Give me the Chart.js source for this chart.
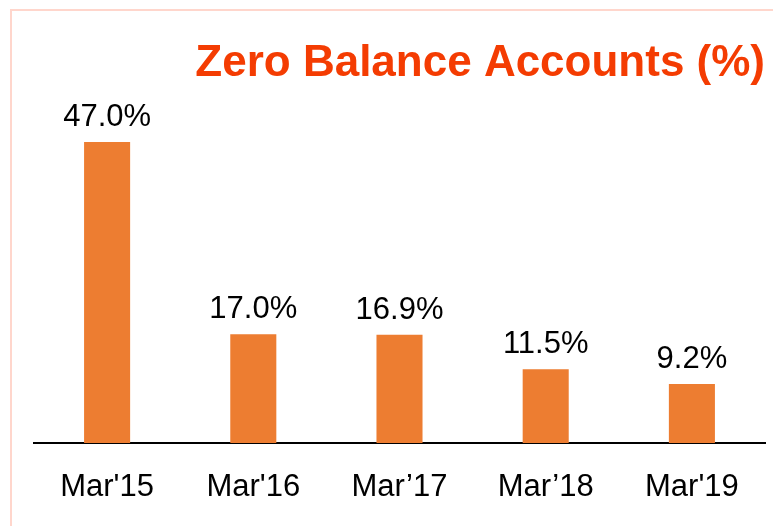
<!DOCTYPE html>
<html lang="en">
<head>
  <meta charset="UTF-8" />
  <title>Zero Balance Accounts (%)</title>
  <script src="https://cdn.jsdelivr.net/npm/chart.js"></script>
  <style>
    body {
      margin: 0;
      background: #fff;
      overflow: hidden;
    }
    #frame {
      position: absolute;
      left: 10px;
      top: 9px;
      width: 800px;
      height: 600px;
      border: 2px solid #FFD6CC;
    }
    #chart {
      position: absolute;
      left: 0;
      top: 0;
    }
  </style>
</head>
<body>
  <div id="frame"></div>
  <canvas id="chart" width="773" height="526"></canvas>
  <script>
    const categories = ["Mar'15", "Mar'16", "Mar\u201917", "Mar\u201918", "Mar'19"];
    const zeroBalance = [47.0, 17.0, 16.9, 11.5, 9.2];
    const valueLabels = ["47.0%", "17.0%", "16.9%", "11.5%", "9.2%"];

    Chart.defaults.font.family = "'Liberation Sans', Arial, sans-serif";
    Chart.defaults.color = "#000";

    // value text above every bar
    const barLabels = {
      id: "barLabels",
      afterDatasetsDraw(chart) {
        const ctx = chart.ctx;
        const meta = chart.getDatasetMeta(0);
        ctx.save();
        ctx.font = "31px 'Liberation Sans', Arial, sans-serif";
        ctx.fillStyle = "#000";
        ctx.textAlign = "center";
        ctx.textBaseline = "alphabetic";
        meta.data.forEach((bar, i) => {
          ctx.fillText(valueLabels[i], bar.x, bar.y - 16);
        });
        ctx.restore();
      }
    };

    new Chart(document.getElementById("chart"), {
      type: "bar",
      data: {
        labels: categories,
        datasets: [{
          data: zeroBalance,
          backgroundColor: "#ED7D31",
          barPercentage: 0.315,
          categoryPercentage: 1
        }]
      },
      options: {
        responsive: false,
        animation: false,
        layout: {
          padding: { left: 34, right: 8, top: 0, bottom: 0 }
        },
        plugins: {
          legend: { display: false },
          tooltip: { enabled: false },
          title: {
            display: true,
            text: "Zero Balance Accounts (%)",
            align: "end",
            color: "#F43C02",
            font: { size: 44, weight: "bold" },
            padding: { top: 37, bottom: 33 }
          }
        },
        scales: {
          x: {
            grid: { display: false },
            border: { display: true, color: "#000", width: 2 },
            ticks: {
              font: { size: 31 },
              color: "#000",
              padding: 18,
              maxRotation: 0
            },
            afterFit(scale) {
              scale.height = 83;
            }
          },
          y: {
            display: false,
            min: 0,
            max: 50
          }
        }
      },
      plugins: [barLabels]
    });
  </script>
</body>
</html>
